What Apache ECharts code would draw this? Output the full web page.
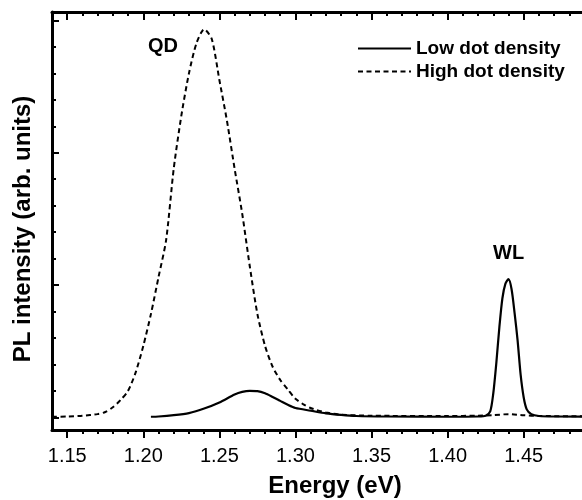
<!DOCTYPE html>
<html>
<head>
<meta charset="utf-8">
<script src="https://cdn.jsdelivr.net/npm/echarts@6/dist/echarts.min.js"></script>
<style>
  html, body { margin: 0; padding: 0; background: #fff; }
  #chart { width: 582px; height: 500px; }
</style>
</head>
<body>
<div id="chart"></div>
<script>
// Photoluminescence spectra: energy (eV) vs intensity (arb. units)
const lowEnergy = [1.205, 1.210, 1.220, 1.230, 1.240, 1.250, 1.260, 1.265, 1.270, 1.275,
  1.280, 1.285, 1.290, 1.295, 1.300, 1.310, 1.320, 1.330, 1.340, 1.360, 1.400, 1.420,
  1.425, 1.428, 1.430, 1.432, 1.434, 1.436, 1.438, 1.440, 1.442, 1.444, 1.446, 1.448,
  1.450, 1.452, 1.455, 1.460, 1.470, 1.510];
const lowIntensity = [0.02, 0.03, 0.08, 0.16, 0.33, 0.56, 0.86, 0.96, 1.00, 0.99,
  0.91, 0.77, 0.62, 0.47, 0.35, 0.25, 0.15, 0.09, 0.05, 0.03, 0.02, 0.03,
  0.06, 0.22, 0.90, 2.05, 3.40, 4.50, 5.05, 5.22, 4.85, 3.95, 2.90, 1.60,
  0.75, 0.30, 0.12, 0.05, 0.03, 0.02];

const highEnergy = [1.140, 1.150, 1.160, 1.170, 1.175, 1.180, 1.185, 1.190, 1.195, 1.200,
  1.205, 1.210, 1.215, 1.220, 1.225, 1.230, 1.235, 1.240, 1.245, 1.250, 1.255, 1.260,
  1.265, 1.270, 1.275, 1.280, 1.285, 1.290, 1.295, 1.300, 1.305, 1.310, 1.320, 1.330,
  1.350, 1.400, 1.420, 1.430, 1.440, 1.450, 1.460, 1.490, 1.510];
const highIntensity = [0.02, 0.03, 0.06, 0.12, 0.20, 0.38, 0.65, 1.00, 1.70, 2.70,
  3.90, 5.30, 6.70, 9.40, 11.40, 13.00, 14.15, 14.67, 14.30, 12.75, 11.20, 9.40,
  7.70, 5.70, 3.90, 2.70, 1.91, 1.41, 1.05, 0.70, 0.50, 0.35, 0.18, 0.10,
  0.06, 0.05, 0.06, 0.08, 0.12, 0.08, 0.05, 0.04, 0.04];

const xTickLabels = [1.15, 1.20, 1.25, 1.30, 1.35, 1.40, 1.45];
const xMajorTicks = [1.15, 1.20, 1.25, 1.30, 1.35, 1.40, 1.45, 1.50];
const xMinorTicks = [1.15, 1.16, 1.17, 1.18, 1.19, 1.20, 1.21, 1.22, 1.23, 1.24, 1.25,
  1.26, 1.27, 1.28, 1.29, 1.30, 1.31, 1.32, 1.33, 1.34, 1.35, 1.36, 1.37, 1.38, 1.39,
  1.40, 1.41, 1.42, 1.43, 1.44, 1.45, 1.46, 1.47, 1.48, 1.49, 1.50];
const yMajorTicks = [0, 5, 10, 15];
const yMinorTicks = [0, 1, 2, 3, 4, 5, 6, 7, 8, 9, 10, 11, 12, 13, 14, 15];

const FONT = '"Liberation Sans", Arial, Helvetica, sans-serif';
const X_MIN = 1.14, X_MAX = 1.51, Y_MIN = -0.48, Y_MAX = 15.32;

function pairs(xs, ys) { return xs.map((x, i) => [x, ys[i]]); }

function xAxisDef(position, ticks, len, inside, withLine, labels) {
  return {
    type: 'value', position, min: X_MIN, max: X_MAX,
    axisLine: { show: withLine, onZero: false, lineStyle: { color: '#000', width: 3 } },
    axisTick: { show: true, customValues: ticks, length: len, inside,
      lineStyle: { color: '#000', width: 2 } },
    axisLabel: labels ? {
      show: true, customValues: labels, formatter: v => v.toFixed(2),
      color: '#000', fontSize: 20, fontFamily: FONT, margin: 16
    } : { show: false },
    splitLine: { show: false }
  };
}
function yAxisDef(ticks, len, withLine) {
  return {
    type: 'value', position: 'left', min: Y_MIN, max: Y_MAX,
    axisLine: { show: withLine, onZero: false, lineStyle: { color: '#000', width: 3 } },
    axisTick: { show: true, customValues: ticks, length: len, inside: true,
      lineStyle: { color: '#000', width: 2 } },
    axisLabel: { show: false },
    splitLine: { show: false }
  };
}

const chart = echarts.init(document.getElementById('chart'), null, { renderer: 'canvas' });
chart.setOption({
  animation: false,
  backgroundColor: '#fff',
  grid: { left: 52, top: 12, width: 563, height: 418, outerBoundsMode: 'none' },
  xAxis: [
    xAxisDef('bottom', xMajorTicks, 8, false, true, xTickLabels),
    xAxisDef('bottom', xMinorTicks, 4, false, false, null),
    xAxisDef('top', xMajorTicks, 8, true, true, null),
    xAxisDef('top', xMinorTicks, 4, true, false, null)
  ],
  yAxis: [
    yAxisDef(yMajorTicks, 7, true),
    yAxisDef(yMinorTicks, 4, false)
  ],
  legend: {
    orient: 'vertical', left: 357, top: 39, padding: 0,
    itemWidth: 53, itemHeight: 14, itemGap: 4,
    itemStyle: { color: 'transparent', borderColor: 'transparent', borderWidth: 0 },
    textStyle: { color: '#000', fontSize: 19, fontWeight: 'bold', fontFamily: FONT },
    data: ['Low dot density', 'High dot density']
  },
  series: [
    {
      name: 'Low dot density', type: 'line', xAxisIndex: 0, yAxisIndex: 0,
      data: pairs(lowEnergy, lowIntensity), smooth: 0.25, symbol: 'none',
      lineStyle: { color: '#000', width: 2.2 }, itemStyle: { color: '#000' }
    },
    {
      name: 'High dot density', type: 'line', xAxisIndex: 0, yAxisIndex: 0,
      data: pairs(highEnergy, highIntensity), smooth: 0.25, symbol: 'none',
      lineStyle: { color: '#000', width: 2, type: [5, 3.5] }, itemStyle: { color: '#000' }
    }
  ],
  graphic: [
    { type: 'text', left: 148, top: 36,
      style: { text: 'QD', font: 'bold 20px ' + FONT, fill: '#000' } },
    { type: 'text', left: 493, top: 243,
      style: { text: 'WL', font: 'bold 20px ' + FONT, fill: '#000' } },
    { type: 'text', x: 335, y: 486,
      style: { text: 'Energy (eV)', font: 'bold 24px ' + FONT, fill: '#000',
        textAlign: 'center', textVerticalAlign: 'middle' } },
    { type: 'text', x: 23, y: 229, rotation: Math.PI / 2,
      style: { text: 'PL intensity (arb. units)', font: 'bold 24px ' + FONT, fill: '#000',
        textAlign: 'center', textVerticalAlign: 'middle' } }
  ]
});
</script>
</body>
</html>
